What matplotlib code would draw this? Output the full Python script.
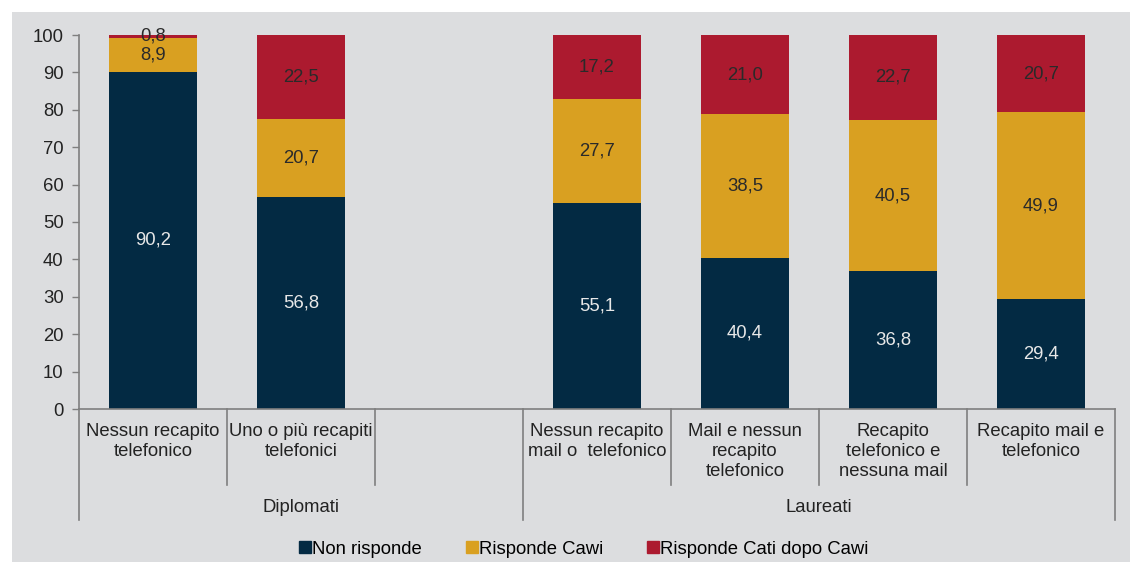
import numpy as np
import matplotlib
matplotlib.use("Agg")
from matplotlib import pyplot as plt
from matplotlib.patches import Rectangle
from matplotlib.lines import Line2D

plt.rcParams["font.family"] = ["Liberation Sans", "DejaVu Sans"]

# dati
categorie = [
    "Nessun recapito\ntelefonico",
    "Uno o più recapiti\ntelefonici",
    "",
    "Nessun recapito\nmail o  telefonico",
    "Mail e nessun\nrecapito\ntelefonico",
    "Recapito\ntelefonico e\nnessuna mail",
    "Recapito mail e\ntelefonico",
]
gruppi = ["Diplomati", "Laureati"]
non_risponde = [90.2, 56.8, np.nan, 55.1, 40.4, 36.8, 29.4]
risponde_cawi = [8.9, 20.7, np.nan, 27.7, 38.5, 40.5, 49.9]
risponde_cati = [0.8, 22.5, np.nan, 17.2, 21.0, 22.7, 20.7]
serie_nomi = ["Non risponde", "Risponde Cawi", "Risponde Cati dopo Cawi"]

colori = ["#032a43", "#d9a021", "#ac1a2f"]
col_testo = ["#e8e8e8", "#2a2a2a", "#2a2a2a"]
sfondo = "#dcdddf"
grigio = "#7f7f7f"
fs = 13.3

W, H = 1130, 562
fig = plt.figure(figsize=(W / 100, H / 100), dpi=100, facecolor="white")
fig.patches.append(Rectangle((12 / W, 0), 1, 1 - 12 / H, transform=fig.transFigure,
                             facecolor=sfondo, edgecolor="none", zorder=-10))

ax = fig.add_axes([79 / W, 1 - 409 / H, (1115 - 79) / W, (409 - 35) / H])
ax.set_facecolor(sfondo)

x = np.arange(len(categorie))
serie = [non_risponde, risponde_cawi, risponde_cati]
base = np.zeros(len(categorie))
for vals, c, tc in zip(serie, colori, col_testo):
    v = np.array(vals, dtype=float)
    ax.bar(x, np.nan_to_num(v), bottom=base, width=0.59, color=c, edgecolor="none")
    for xi, (b, h) in enumerate(zip(base, v)):
        if np.isnan(h):
            continue
        yc = b + h / 2
        if h < 2:
            yc = b + h / 2 + 0.3
        ax.text(xi, yc, f"{h:.1f}".replace(".", ","), ha="center", va="center",
                fontsize=fs, color=tc)
    base = base + np.nan_to_num(v)

ax.set_xlim(-0.5, len(categorie) - 0.5)
ax.set_ylim(0, 100)
ax.set_yticks(range(0, 101, 10))
ax.tick_params(axis="y", direction="out", length=5, width=1, color=grigio,
               labelsize=fs, labelcolor="#222222", pad=6)
ax.set_xticks([])
for s in ["top", "right"]:
    ax.spines[s].set_visible(False)
ax.spines["left"].set_color(grigio)
ax.spines["bottom"].set_color(grigio)
ax.spines["left"].set_linewidth(1.2)
ax.spines["bottom"].set_linewidth(1.2)

# etichette categorie e separatori
trans = ax.get_xaxis_transform()
y_corta = -(485 - 409) / (409 - 35)
y_lunga = -(520 - 409) / (409 - 35)
for xi, lab in enumerate(categorie):
    ax.text(xi, -(423 - 409) / (409 - 35), lab, transform=trans, ha="center", va="top",
            fontsize=fs, color="#222222", linespacing=1.22)
for b in np.arange(len(categorie) + 1) - 0.5:
    lunga = b in (-0.5, 2.5, len(categorie) - 0.5)
    ax.plot([b, b], [0, y_lunga if lunga else y_corta], transform=trans,
            color=grigio, lw=1.2, clip_on=False)
ax.text(1, -(508 - 409) / (409 - 35), gruppi[0], transform=trans, ha="center",
        va="center", fontsize=fs, color="#222222")
ax.text(4.5, -(508 - 409) / (409 - 35), gruppi[1], transform=trans, ha="center",
        va="center", fontsize=fs, color="#222222")

handles = [Line2D([], [], marker="s", linestyle="none", markersize=8, color=c)
           for c in colori]
fig.legend(handles, serie_nomi, loc="center", bbox_to_anchor=(583 / W, 1 - 549 / H),
           ncol=3, frameon=False, fontsize=fs, handletextpad=0.0, columnspacing=2.3,
           handlelength=0.8)

fig.savefig("out.png", dpi=100, facecolor=fig.get_facecolor())
